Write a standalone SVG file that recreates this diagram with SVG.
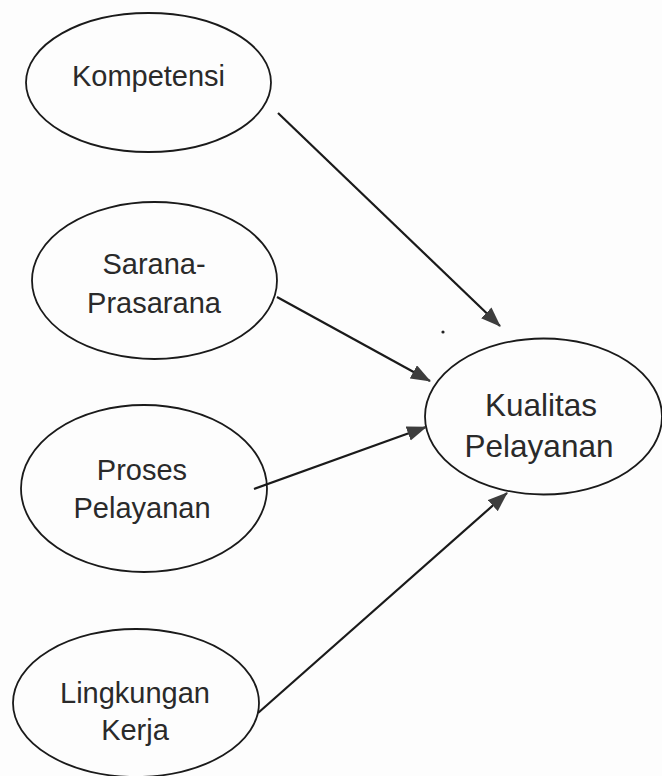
<svg xmlns="http://www.w3.org/2000/svg" width="662" height="776" viewBox="0 0 662 776">
<defs>
<style>
.node ellipse{fill:none;stroke:#1a1a1a;stroke-width:1.8}
.node text{font-family:"Liberation Sans",Arial,sans-serif;font-size:29px;fill:#2a2a2a;text-anchor:middle}
#kualitas text{font-size:31.5px}
.edges line{stroke:#1a1a1a;stroke-width:2.2}
</style>
<marker id="ah" markerWidth="20" markerHeight="16" refX="19" refY="7.5" orient="auto" markerUnits="userSpaceOnUse">
<path d="M0,0 L20,7.5 L0,15 Z" fill="#3d3d3d"/>
</marker>
</defs>
<rect width="662" height="776" fill="#fdfdfd"/>
<g id="kompetensi" class="node">
<ellipse cx="148.5" cy="82.5" rx="122.5" ry="69.5"/>
<text x="148.5" y="86">Kompetensi</text>
</g>
<g id="sarana" class="node">
<ellipse cx="154.5" cy="280.5" rx="122.5" ry="78.5"/>
<text x="154" y="274">Sarana-</text>
<text x="154" y="313">Prasarana</text>
</g>
<g id="proses" class="node">
<ellipse cx="144" cy="488.5" rx="123" ry="83.5"/>
<text x="142" y="480">Proses</text>
<text x="142" y="518">Pelayanan</text>
</g>
<g id="lingkungan" class="node">
<ellipse cx="136" cy="703" rx="123" ry="74"/>
<text x="135" y="703">Lingkungan</text>
<text x="135" y="740">Kerja</text>
</g>
<g id="kualitas" class="node">
<ellipse cx="543.5" cy="416.5" rx="118.5" ry="78"/>
<text x="541" y="416">Kualitas</text>
<text x="539" y="457">Pelayanan</text>
</g>
<g id="edges" class="edges">
<line x1="278" y1="113" x2="500" y2="326" marker-end="url(#ah)"/>
<line x1="277" y1="297" x2="430" y2="381" marker-end="url(#ah)"/>
<line x1="254" y1="489" x2="426" y2="427" marker-end="url(#ah)"/>
<line x1="258" y1="713" x2="507" y2="493" marker-end="url(#ah)"/>
</g>
<circle cx="443" cy="332" r="1.6" fill="#222"/>
</svg>
